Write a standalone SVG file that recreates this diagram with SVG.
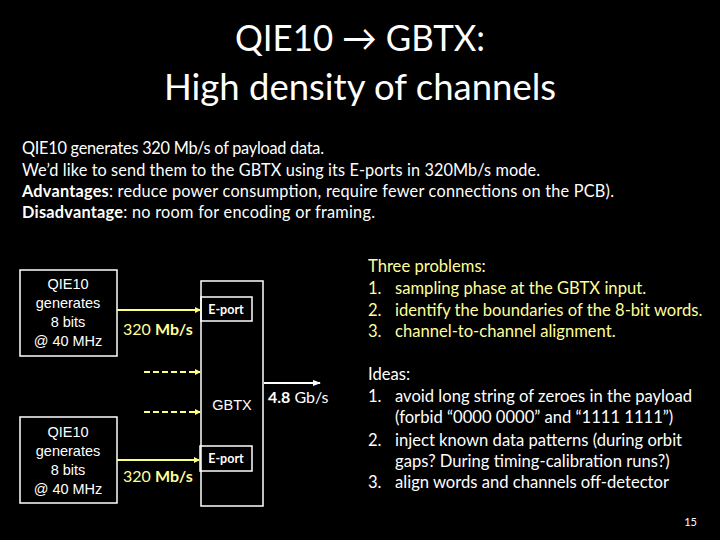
<svg xmlns="http://www.w3.org/2000/svg" width="720" height="540" viewBox="0 0 720 540">
<style>
.t{font-family:Lato,"Open Sans","Liberation Sans",sans-serif;fill:#fff}
.a{font-family:"Liberation Sans",Arial,sans-serif;fill:#fff;font-size:14.5px;text-anchor:middle}
.y{fill:#ffff99}
.b{font-weight:bold}
.box{fill:none;stroke:#fff;stroke-width:1.5}
.ln{stroke:#ffff80;stroke-width:2;fill:none}
.ds{stroke:#ffff80;stroke-width:2;fill:none;stroke-dasharray:6,3}
</style>
<defs>
<marker id="ya" markerWidth="6" markerHeight="6" refX="5" refY="3" orient="auto" markerUnits="userSpaceOnUse"><path d="M0,0 L6,3 L0,6 z" fill="#ffff80"/></marker>
<marker id="wa" markerWidth="8" markerHeight="6" refX="7" refY="3" orient="auto" markerUnits="userSpaceOnUse"><path d="M0,0 L8,3 L0,6 z" fill="#fff"/></marker>
</defs>
<rect width="720" height="540" fill="#000"/>
<g id="title" class="t" font-size="36.5" text-anchor="middle">
<text x="360" y="51" textLength="250" lengthAdjust="spacingAndGlyphs">QIE10 → GBTX:</text>
<text x="360" y="100">High density of channels</text>
</g>
<g id="intro" class="t" font-size="16.3">
<text x="22" y="154" textLength="302" lengthAdjust="spacing">QIE10 generates 320 Mb/s of payload data.</text>
<text x="22" y="176" textLength="518" lengthAdjust="spacing">We’d like to send them to the GBTX using its E-ports in 320Mb/s mode.</text>
<text x="22" y="197" textLength="592" lengthAdjust="spacing"><tspan class="b">Advantages</tspan>: reduce power consumption, require fewer connections on the PCB).</text>
<text x="22" y="218" textLength="353" lengthAdjust="spacing"><tspan class="b">Disadvantage</tspan>: no room for encoding or framing.</text>
</g>
<g id="qie1">
<rect class="box" x="20" y="270" width="97" height="86"/>
<text class="a" x="68" y="289">QIE10</text>
<text class="a" x="68" y="308">generates</text>
<text class="a" x="68" y="327">8 bits</text>
<text class="a" x="68" y="346">@ 40 MHz</text>
</g>
<g id="qie2">
<rect class="box" x="20" y="417" width="97" height="86"/>
<text class="a" x="68" y="437">QIE10</text>
<text class="a" x="68" y="456">generates</text>
<text class="a" x="68" y="475">8 bits</text>
<text class="a" x="68" y="494">@ 40 MHz</text>
</g>
<g id="gbtx">
<rect class="box" x="201" y="281" width="62" height="225"/>
<text class="a" x="232" y="410" font-size="14">GBTX</text>
</g>
<g id="eport1">
<rect class="box" x="201" y="297" width="51" height="24"/>
<text class="t b" x="226" y="314" font-size="12.5" text-anchor="middle">E-port</text>
</g>
<g id="eport2">
<rect class="box" x="200" y="446" width="52" height="25"/>
<text class="t b" x="226" y="463" font-size="12.5" text-anchor="middle">E-port</text>
</g>
<g id="connectors">
<line class="ln" x1="117" y1="310" x2="200" y2="310" marker-end="url(#ya)"/>
<line class="ln" x1="117" y1="460" x2="199" y2="460" marker-end="url(#ya)"/>
<line class="ds" x1="144" y1="372" x2="200" y2="372" marker-end="url(#ya)"/>
<line class="ds" x1="144" y1="412" x2="200" y2="412" marker-end="url(#ya)"/>
<line x1="264" y1="383" x2="320" y2="383" stroke="#fff" stroke-width="2" marker-end="url(#wa)"/>
</g>
<g id="labels" class="t" font-size="16">
<text x="123" y="335" class="y">320 <tspan class="b">Mb/s</tspan></text>
<text x="123" y="482" class="y">320 <tspan class="b">Mb/s</tspan></text>
<text x="268" y="403"><tspan class="b">4.8</tspan> Gb/s</text>
</g>
<g id="problems" class="t y" font-size="16.6">
<text x="368" y="272">Three problems:</text>
<text x="368" y="294">1.</text><text x="395" y="294">sampling phase at the GBTX input.</text>
<text x="368" y="316">2.</text><text x="395" y="316">identify the boundaries of the 8-bit words.</text>
<text x="368" y="337">3.</text><text x="395" y="337">channel-to-channel alignment.</text>
</g>
<g id="ideas" class="t" font-size="16.6">
<text x="368" y="380">Ideas:</text>
<text x="368" y="402">1.</text><text x="395" y="402">avoid long string of zeroes in the payload</text>
<text x="395" y="423">(forbid “0000 0000” and “1111 1111”)</text>
<text x="368" y="446">2.</text><text x="395" y="446">inject known data patterns (during orbit</text>
<text x="395" y="467">gaps? During timing-calibration runs?)</text>
<text x="368" y="488">3.</text><text x="395" y="488">align words and channels off-detector</text>
</g>
<text id="page" class="t" x="697" y="526" font-size="11" text-anchor="end">15</text>
</svg>
